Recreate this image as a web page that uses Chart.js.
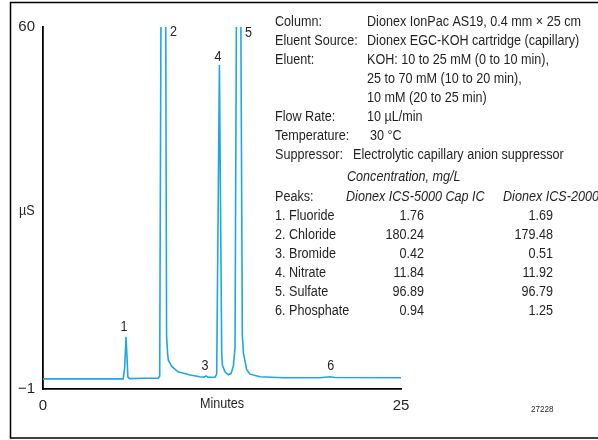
<!DOCTYPE html>
<html>
<head>
<meta charset="utf-8">
<script src="https://cdn.jsdelivr.net/npm/chart.js@4.4.1/dist/chart.umd.min.js"></script>
<style>
  html, body { margin: 0; padding: 0; background: #fff; }
  #wrap { position: relative; width: 598px; height: 440px; }
</style>
</head>
<body>
<div id="wrap"><canvas id="chrom" width="598" height="440"></canvas></div>
<script>
// Chromatogram trace (minutes, µS)
const traceTimes  = [0, 5.6, 5.7, 5.8, 5.93, 6.05, 7.0, 8.05, 8.15, 8.25, 8.4, 8.56, 8.63, 8.7, 8.75, 8.99, 9.43, 10.27, 10.96, 11.24, 11.38, 11.52, 12.01, 12.13, 12.32, 12.48, 12.53, 12.71, 12.94, 13.13, 13.29, 13.41, 13.52, 13.65, 13.8, 13.92, 14.0, 14.23, 14.46, 15.15, 16.76, 19.34, 20.04, 20.39, 25];
const traceValues = [0.7, 0.7, 2.5, 7.8, 1.0, 0.75, 0.8, 0.8, 1.2, 70, 200, 70, 8, 5, 3.9, 2.8, 1.9, 1.36, 1.07, 1.0, 1.2, 0.98, 0.97, 1.5, 53.6, 5, 3.0, 1.9, 1.4, 1.6, 2.8, 6, 70, 200, 70, 8, 5, 2.2, 1.5, 1.07, 0.9, 0.9, 1.07, 0.95, 0.9];

// peak numbers and where they sit (minutes, µS)
const peakNumbers     = ['1', '2', '3', '4', '5', '6'];
const peakLabelTimes  = [5.66, 9.12, 11.31, 12.22, 14.35, 20.1];
const peakLabelLevels = [9.4, 59.2, 2.9, 55, 59.0, 2.9];

// axis ticks
const yTicks = [-1, 60];
const xTicks = [0, 25];

// method conditions
const methodLabels = ['Column:', 'Eluent Source:', 'Eluent:', '', '', 'Flow Rate:', 'Temperature:', 'Suppressor:'];
const methodValues = ['Dionex IonPac AS19, 0.4 mm \u00d7 25 cm', 'Dionex EGC-KOH cartridge (capillary)',
  'KOH: 10 to 25 mM (0 to 10 min),', '25 to 70 mM (10 to 20 min),', '10 mM (20 to 25 min)',
  '10 \u00b5L/min', '30 \u00b0C', 'Electrolytic capillary anion suppressor'];

// peak table
const peakNames = ['1. Fluoride', '2. Chloride', '3. Bromide', '4. Nitrate', '5. Sulfate', '6. Phosphate'];
const capIC     = ['1.76', '180.24', '0.42', '11.84', '96.89', '0.94'];
const ics2000   = ['1.69', '179.48', '0.51', '11.92', '96.79', '1.25'];

const FONT = "'Liberation Sans', Arial, sans-serif";
const INK = '#231f20';
const SQUEEZE = 0.9; // the original type is condensed

// text drawn a little narrower than the font
function squeezed(ctx, s, x, y, align) {
  ctx.save();
  ctx.translate(x, y);
  ctx.scale(SQUEEZE, 1);
  ctx.textAlign = align || 'left';
  ctx.fillText(s, 0, 0);
  ctx.restore();
}

// frame, axis titles, peak numbers and the text block
const decorPlugin = {
  id: 'decor',
  afterDraw(chart) {
    const ctx = chart.ctx;
    const xs = chart.scales.x, ys = chart.scales.y;
    ctx.save();

    // outer frame
    ctx.strokeStyle = '#000';
    ctx.lineWidth = 1.5;
    ctx.strokeRect(10.5, 2.5, 620, 435.5);

    ctx.fillStyle = INK;
    ctx.textBaseline = 'middle';

    // y title (horizontal)
    ctx.font = '14px ' + FONT;
    squeezed(ctx, '\u00b5S', 19, 211);

    // x title
    squeezed(ctx, 'Minutes', (xs.left + xs.right) / 2, 404, 'center');

    // peak numbers
    peakNumbers.forEach((n, i) => {
      squeezed(ctx, n, xs.getPixelForValue(peakLabelTimes[i]), ys.getPixelForValue(peakLabelLevels[i]), 'center');
    });

    // method conditions
    methodLabels.forEach((lab, i) => {
      const y = 22 + i * 19;
      if (lab) squeezed(ctx, lab, 275, y);
      const vx = lab === 'Suppressor:' ? 353 : (lab === 'Temperature:' ? 370 : 367);
      squeezed(ctx, methodValues[i], vx, y);
    });

    // table header
    ctx.font = 'italic 14px ' + FONT;
    squeezed(ctx, 'Concentration, mg/L', 347, 177);
    squeezed(ctx, 'Dionex ICS-5000 Cap IC', 346, 197);
    squeezed(ctx, 'Dionex ICS-2000', 503, 197);
    ctx.font = '14px ' + FONT;
    squeezed(ctx, 'Peaks:', 275, 197);

    peakNames.forEach((name, i) => {
      const y = 216.5 + i * 19;
      squeezed(ctx, name, 275, y);
      squeezed(ctx, capIC[i], 424, y, 'right');
      squeezed(ctx, ics2000[i], 553, y, 'right');
    });

    // figure number
    ctx.font = '9px ' + FONT;
    squeezed(ctx, '27228', 531, 410);

    ctx.restore();
  }
};

new Chart(document.getElementById('chrom'), {
  type: 'line',
  data: {
    datasets: [{
      data: traceTimes.map((t, i) => ({ x: t, y: traceValues[i] })),
      borderColor: '#1ca8e3',
      borderWidth: 1.6,
      pointRadius: 0,
      tension: 0,
      fill: false
    }]
  },
  options: {
    responsive: false,
    animation: false,
    devicePixelRatio: 1,
    layout: { padding: { left: 0, top: 27, right: 197, bottom: 0 } },
    plugins: { legend: { display: false }, tooltip: { enabled: false } },
    scales: {
      x: {
        type: 'linear',
        min: 0,
        max: 25,
        afterBuildTicks: s => { s.ticks = xTicks.map(v => ({ value: v })); },
        afterFit: s => { s.height = 51; },
        grid: { display: false, drawTicks: true, tickLength: 6, tickColor: '#000', tickWidth: 1.5 },
        border: { display: true, color: '#000', width: 1.8 },
        ticks: { color: INK, font: { family: FONT, size: 15 }, padding: 2, maxRotation: 0 }
      },
      y: {
        min: -1,
        max: 60,
        afterBuildTicks: s => { s.ticks = yTicks.map(v => ({ value: v })); },
        afterFit: s => { s.width = 43; },
        grid: { display: false, drawTicks: true, tickLength: 6, tickColor: '#000', tickWidth: 1.5 },
        border: { display: true, color: '#000', width: 1.8 },
        ticks: {
          color: INK,
          font: { family: FONT, size: 15 },
          padding: 2,
          callback: v => (v < 0 ? '\u2212' + Math.abs(v) : String(v))
        }
      }
    }
  },
  plugins: [decorPlugin]
});
</script>
</body>
</html>
